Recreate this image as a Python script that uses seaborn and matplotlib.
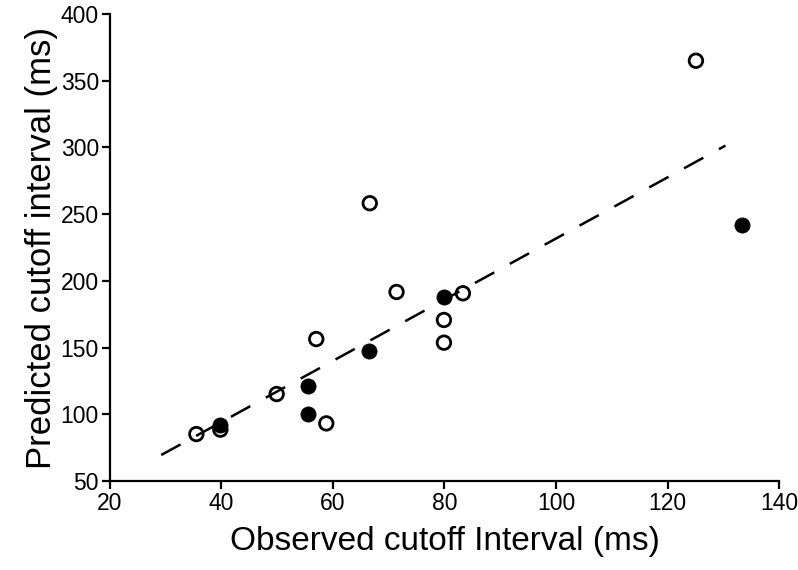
import matplotlib
matplotlib.use('Agg')
import matplotlib.pyplot as plt
import seaborn as sns
import pandas as pd

# open circles
open_x = [35.5, 39.8, 49.9, 58.8, 57.0, 66.6, 71.4, 83.3, 79.9, 79.9, 125.1]
open_y = [85.2, 88.5, 115.2, 93.2, 156.4, 258.2, 191.7, 190.7, 170.7, 153.7, 365.0]

# filled circles
filled_x = [39.8, 55.5, 55.5, 66.5, 79.9, 133.4]
filled_y = [92.0, 121.4, 100.2, 147.5, 187.7, 241.7]

# dashed fit line
line_x = [29.2, 130.4]
line_y = [69.5, 301.4]

sns.set_style('ticks')
plt.rcParams['font.family'] = ['Liberation Sans', 'DejaVu Sans']
plt.rcParams['text.color'] = 'black'
plt.rcParams['axes.labelcolor'] = 'black'

fig = plt.figure(figsize=(7.98, 5.70), dpi=100)
ax = fig.add_axes([0.1378, 0.1561, 0.8384, 0.8193])

df_open = pd.DataFrame({'obs': open_x, 'pred': open_y})
df_fill = pd.DataFrame({'obs': filled_x, 'pred': filled_y})

sns.scatterplot(data=df_open, x='obs', y='pred', ax=ax, s=95, marker='o',
                facecolor='none', edgecolor='black', linewidth=2.0, zorder=3)
sns.scatterplot(data=df_fill, x='obs', y='pred', ax=ax, s=120, marker='o',
                color='black', edgecolor='black', linewidth=0.5, zorder=4)
sns.lineplot(x=line_x, y=line_y, ax=ax, color='black', linewidth=1.8,
             dashes=False, zorder=5)
ax.lines[-1].set_dashes([8.8, 7.1])

ax.set_xlim(20, 140)
ax.set_ylim(50, 400)
ax.set_xticks(range(20, 141, 20))
ax.set_yticks(range(50, 401, 50))

sns.despine(ax=ax)
for sp in ['left', 'bottom']:
    ax.spines[sp].set_linewidth(1.6)
    ax.spines[sp].set_color('black')
ax.tick_params(axis='both', direction='out', length=6, width=1.6,
               labelsize=16.5, colors='black', pad=2)

ax.set_xlabel('Observed cutoff Interval (ms)', fontsize=24, labelpad=8)
ax.set_ylabel('Predicted cutoff interval (ms)', fontsize=25, labelpad=2)

plt.savefig('out.png', dpi=100)
